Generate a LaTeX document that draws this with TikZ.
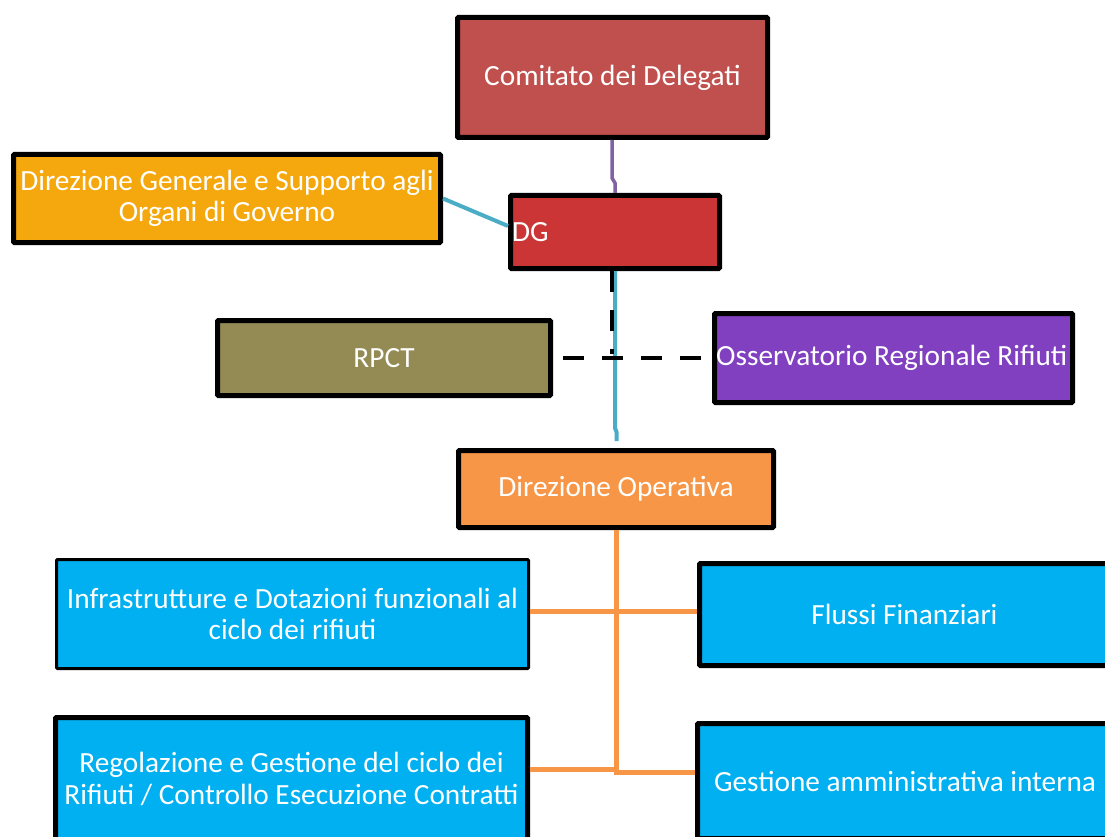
\documentclass[tikz,border=0pt]{standalone}
\usepackage{fontspec}
\setmainfont{Carlito}
\definecolor{cdfill}{HTML}{C0504D}
\definecolor{dgsfill}{HTML}{F5A80D}
\definecolor{dgfill}{HTML}{CC3535}
\definecolor{rpctfill}{HTML}{948A54}
\definecolor{ossfill}{HTML}{8040C0}
\definecolor{dopfill}{HTML}{F79646}
\definecolor{unitfill}{HTML}{00B0F0}
\definecolor{purpleline}{HTML}{8064A2}
\definecolor{blueline}{HTML}{4BACC6}
\definecolor{orangeline}{HTML}{F79646}
\begin{document}
\begin{tikzpicture}[x=1pt,y=-1pt,
  lbl/.style={text=white, font=\fontsize{29.3}{31.5}\selectfont},
  box/.style={lbl, draw=black, line width=5pt, rounded corners=1pt,
    inner sep=0pt, align=center},
  thinbox/.style={box, line width=3pt},
  purplecon/.style={draw=purpleline, line width=3.5pt},
  bluecon/.style={draw=blueline, line width=4pt},
  dashcon/.style={draw=black, line width=4pt, dash pattern=on 21pt off 18pt},
  orangecon/.style={draw=orangeline, line width=5pt}]
\useasboundingbox (0,0) rectangle (1105,837);
% boxes
\node[box, fill=cdfill, minimum width=310pt, minimum height=120pt] (cd) at (612.5,77.5) {Comitato dei Delegati};
\node[box, fill=dgsfill, minimum width=427pt, minimum height=88pt] (dgs) at (227,198.5) {Direzione Generale e Supporto agli\\Organi di Governo};
\node[box, fill=dgfill, minimum width=209pt, minimum height=73pt] (dg) at (615,232) {};
\node[lbl, anchor=west, inner sep=0pt] (dgt) at (512,232) {DG};
\node[box, fill=rpctfill, minimum width=333pt, minimum height=75pt] (rpct) at (384,358) {RPCT};
\node[box, fill=ossfill, minimum width=358pt, minimum height=89pt] (oss) at (893.5,358) {};
\node[lbl, anchor=west, inner sep=0pt] (osst) at (716,358) {Osservatorio Regionale Rifiuti};
\node[box, fill=dopfill, minimum width=315pt, minimum height=77pt] (dop) at (616,489) {Direzione Operativa};
\node[thinbox, fill=unitfill, minimum width=472pt, minimum height=109pt] (inf) at (292.5,614) {Infrastrutture e Dotazioni funzionali al\\ciclo dei rifiuti};
\node[box, fill=unitfill, minimum width=410pt, minimum height=102pt] (ff) at (904.5,614.5) {Flussi Finanziari};
\node[box, fill=unitfill, minimum width=472pt, minimum height=123pt] (reg) at (291.5,779) {Regolazione e Gestione del ciclo dei\\Rifiuti / Controllo Esecuzione Contratti};
\node[box, fill=unitfill, minimum width=415pt, minimum height=115pt] (gai) at (905,781) {Gestione amministrativa interna};
% connectors
\draw[purplecon] ([xshift=-0.5pt]cd.south) -- ++(0,38) -- ++(3,5) -- (dg.north);
\draw[bluecon] ([yshift=6pt]dg.west) -- (dgs.east);
\coordinate (blueend) at ([xshift=1.5pt,yshift=-170pt]dg.south);
\draw[bluecon] (dg.south) -- ++(0,157) -- ++(1.5,4) -- (blueend);
\coordinate (dashend) at ([xshift=-3pt,yshift=-83pt]dg.south);
\draw[dashcon] ([xshift=-3pt]dg.south) -- (dashend);
\draw[dashcon] ([xshift=10pt]rpct.east) -- (oss.west);
\coordinate (gaiin) at ([yshift=9pt]gai.west);
\coordinate (regin) at ([yshift=10pt]reg.east);
\coordinate (infin) at ([yshift=3pt]inf.east);
\coordinate (ffin) at ([yshift=3.5pt]ff.west);
\draw[orangecon] (dop.south) |- (gaiin);
\draw[orangecon] (infin) -- (ffin);
\draw[orangecon] (regin) -- (regin -| dop.south);
\end{tikzpicture}
\end{document}
